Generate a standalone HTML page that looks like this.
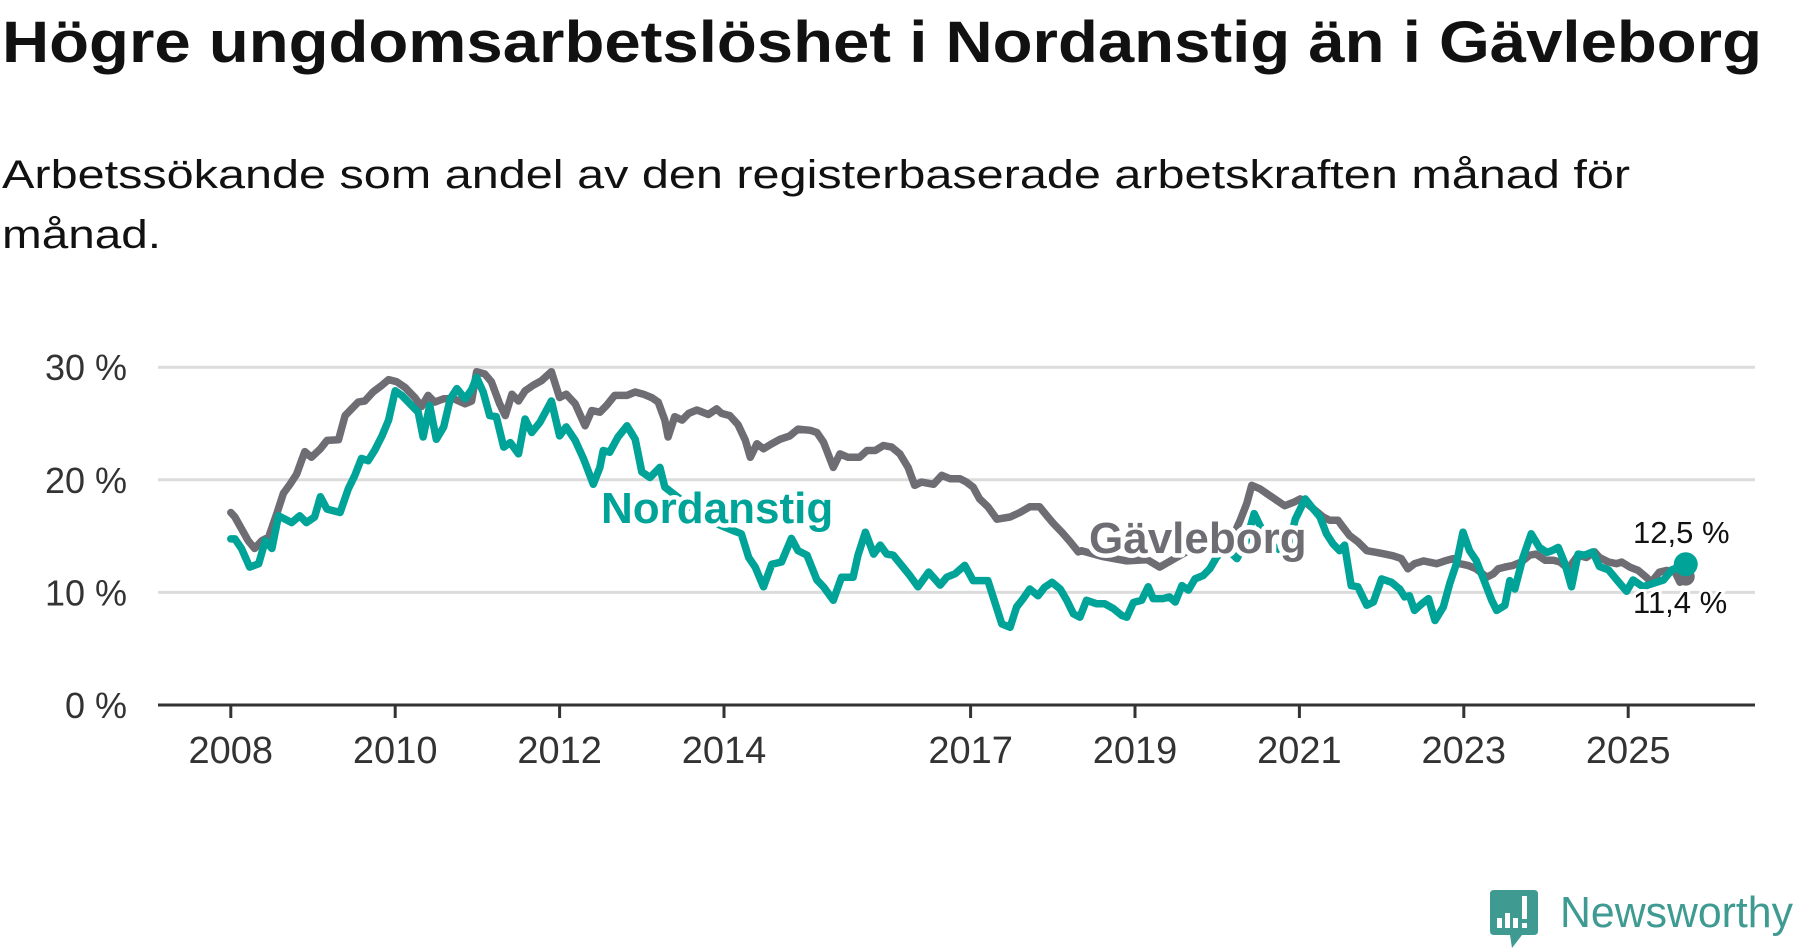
<!DOCTYPE html>
<html><head><meta charset="utf-8"><style>
html,body{margin:0;padding:0;background:#fff;width:1800px;height:948px;overflow:hidden}
svg text{font-family:"Liberation Sans",sans-serif}
</style></head><body>
<svg id="chart" width="1800" height="948" viewBox="0 0 1800 948" xmlns="http://www.w3.org/2000/svg">
<text x="2" y="62" font-size="58" font-weight="bold" fill="#111" textLength="1760" lengthAdjust="spacingAndGlyphs">Högre ungdomsarbetslöshet i Nordanstig än i Gävleborg</text>
<text x="2" y="188" font-size="40" fill="#111" textLength="1628" lengthAdjust="spacingAndGlyphs">Arbetssökande som andel av den registerbaserade arbetskraften månad för</text>
<text x="2" y="248" font-size="40" fill="#111" textLength="159" lengthAdjust="spacingAndGlyphs">månad.</text>
<g id="grid"></g><g id="axis"></g><g id="lines"></g><g id="labels"></g>
<g>
<path d="M1494 890 H1534 Q1538 890 1538 894 V931 Q1538 935 1534 935 H1522 L1512 948 L1510 935 H1494 Q1490 935 1490 931 V894 Q1490 890 1494 890 Z" fill="#3f9a92"/>
<rect x="1497" y="918" width="5" height="10" fill="#fff"/><rect x="1505" y="913" width="5" height="15" fill="#fff"/><rect x="1513" y="918" width="5" height="10" fill="#fff"/><rect x="1522" y="896" width="5" height="23" fill="#fff"/><rect x="1522" y="923" width="5" height="5" fill="#fff"/>
<text x="1560" y="927" font-size="44" fill="#3f9a92" textLength="233" lengthAdjust="spacingAndGlyphs">Newsworthy</text>
</g>
</svg>
<script>
const yTicks=[0,10,20,30];
const yTickLabels=["0 %","10 %","20 %","30 %"];
const xTicks=[2008,2010,2012,2014,2017,2019,2021,2023,2025];
const gavDates=[2008.0,2008.05,2008.13,2008.21,2008.29,2008.38,2008.46,2008.56,2008.64,2008.72,2008.8,2008.9,2008.98,2009.09,2009.17,2009.31,2009.39,2009.47,2009.55,2009.63,2009.73,2009.84,2009.92,2010.02,2010.12,2010.24,2010.32,2010.4,2010.48,2010.59,2010.71,2010.85,2010.93,2010.99,2011.09,2011.17,2011.27,2011.34,2011.42,2011.5,2011.58,2011.68,2011.78,2011.9,2012.0,2012.08,2012.19,2012.31,2012.39,2012.49,2012.57,2012.67,2012.82,2012.92,2013.02,2013.12,2013.2,2013.28,2013.32,2013.4,2013.49,2013.57,2013.67,2013.81,2013.91,2013.97,2014.07,2014.17,2014.26,2014.32,2014.4,2014.48,2014.58,2014.68,2014.8,2014.9,2015.05,2015.13,2015.21,2015.33,2015.41,2015.51,2015.65,2015.74,2015.84,2015.94,2016.04,2016.14,2016.24,2016.32,2016.4,2016.55,2016.65,2016.75,2016.87,2016.95,2017.03,2017.11,2017.21,2017.32,2017.48,2017.6,2017.72,2017.84,2017.94,2018.01,2018.11,2018.21,2018.31,2018.35,2018.6,2018.9,2019.15,2019.3,2019.6,2019.9,2020.1,2020.2,2020.28,2020.36,2020.42,2020.52,2020.64,2020.72,2020.82,2020.93,2021.01,2021.09,2021.29,2021.37,2021.47,2021.53,2021.61,2021.71,2021.82,2021.94,2022.04,2022.14,2022.24,2022.32,2022.4,2022.51,2022.67,2022.77,2022.87,2022.95,2023.05,2023.15,2023.28,2023.36,2023.42,2023.5,2023.6,2023.7,2023.8,2023.88,2023.99,2024.09,2024.17,2024.27,2024.39,2024.49,2024.59,2024.65,2024.76,2024.86,2024.92,2025.02,2025.12,2025.22,2025.28,2025.38,2025.47,2025.57,2025.63,2025.7];
const gavValues=[17.1,16.7,15.65,14.6,13.9,14.6,14.9,17.0,18.8,19.6,20.5,22.5,22.0,22.75,23.5,23.55,25.7,26.3,26.9,27.0,27.8,28.4,28.9,28.7,28.2,27.3,26.5,27.5,26.9,27.2,27.2,26.75,27.0,29.6,29.4,28.7,26.75,25.7,27.6,27.0,27.9,28.4,28.8,29.6,27.3,27.6,26.75,24.8,26.15,26.0,26.6,27.5,27.5,27.8,27.6,27.3,26.9,25.3,23.8,25.6,25.3,25.9,26.2,25.8,26.3,25.9,25.7,24.9,23.5,22.0,23.2,22.75,23.2,23.6,23.9,24.5,24.4,24.2,23.35,21.1,22.3,22.0,22.0,22.6,22.6,23.05,22.9,22.3,21.1,19.5,19.8,19.6,20.4,20.1,20.1,19.8,19.35,18.3,17.6,16.5,16.7,17.1,17.6,17.6,16.7,16.1,15.35,14.5,13.6,13.7,13.2,12.8,12.9,12.25,13.5,14.5,15.3,15.1,16.4,17.9,19.5,19.2,18.6,18.2,17.7,18.0,18.3,17.9,16.7,16.4,16.4,15.8,15.05,14.5,13.7,13.55,13.4,13.25,13.0,12.1,12.55,12.8,12.55,12.8,13.0,12.55,12.4,12.1,11.35,11.65,12.1,12.25,12.4,12.7,13.3,13.4,12.85,12.85,12.7,12.1,13.3,13.1,13.6,13.1,12.7,12.55,12.7,12.25,11.95,11.35,10.9,11.8,11.95,11.8,10.9,11.4];
const norDates=[2008.0,2008.05,2008.13,2008.23,2008.34,2008.42,2008.5,2008.58,2008.66,2008.74,2008.84,2008.92,2009.02,2009.09,2009.17,2009.33,2009.43,2009.51,2009.59,2009.67,2009.75,2009.84,2009.92,2010.0,2010.08,2010.2,2010.28,2010.34,2010.42,2010.5,2010.59,2010.67,2010.75,2010.85,2010.93,2010.99,2011.07,2011.15,2011.23,2011.32,2011.4,2011.5,2011.58,2011.66,2011.76,2011.9,2012.0,2012.08,2012.19,2012.29,2012.41,2012.49,2012.53,2012.61,2012.71,2012.82,2012.92,2013.0,2013.1,2013.22,2013.28,2013.59,2013.91,2014.11,2014.21,2014.3,2014.38,2014.48,2014.58,2014.7,2014.82,2014.9,2015.01,2015.13,2015.21,2015.33,2015.43,2015.57,2015.63,2015.72,2015.82,2015.9,2015.98,2016.06,2016.16,2016.26,2016.36,2016.49,2016.63,2016.71,2016.81,2016.93,2017.03,2017.21,2017.3,2017.38,2017.48,2017.56,2017.64,2017.72,2017.82,2017.9,2017.99,2018.09,2018.17,2018.25,2018.33,2018.41,2018.53,2018.63,2018.74,2018.84,2018.9,2018.98,2019.08,2019.16,2019.22,2019.34,2019.42,2019.49,2019.57,2019.65,2019.73,2019.83,2019.91,2019.99,2020.1,2020.24,2020.35,2020.45,2020.55,2020.7,2020.85,2020.95,2021.07,2021.17,2021.25,2021.33,2021.41,2021.49,2021.55,2021.63,2021.71,2021.82,2021.9,2022.0,2022.12,2022.22,2022.28,2022.34,2022.4,2022.49,2022.57,2022.65,2022.75,2022.83,2022.91,2022.99,2023.07,2023.15,2023.26,2023.34,2023.4,2023.5,2023.56,2023.62,2023.72,2023.82,2023.92,2024.01,2024.07,2024.15,2024.23,2024.31,2024.39,2024.47,2024.57,2024.65,2024.76,2024.88,2024.98,2025.06,2025.18,2025.3,2025.43,2025.53,2025.7];
const norValues=[14.75,14.75,13.9,12.25,12.55,14.6,13.9,16.8,16.5,16.2,16.8,16.2,16.7,18.5,17.4,17.1,19.2,20.4,21.9,21.7,22.6,23.9,25.3,27.9,27.5,26.6,26.0,23.8,26.6,23.6,24.7,27.2,28.1,27.2,28.0,29.1,27.8,25.7,25.6,22.9,23.3,22.3,25.4,24.2,25.1,27.0,23.9,24.7,23.5,21.9,19.6,21.1,22.6,22.45,23.8,24.8,23.6,20.7,20.2,21.1,19.35,17.6,16.1,15.5,15.2,13.1,12.25,10.5,12.5,12.7,14.8,13.7,13.3,11.1,10.5,9.3,11.35,11.35,13.3,15.35,13.4,14.2,13.4,13.3,12.4,11.5,10.5,11.8,10.65,11.35,11.65,12.4,11.05,11.05,9.0,7.2,6.9,8.7,9.45,10.3,9.7,10.45,10.9,10.3,9.3,8.1,7.8,9.3,9.0,9.0,8.55,7.95,7.8,9.1,9.3,10.5,9.45,9.45,9.6,9.15,10.6,10.2,11.2,11.5,12.1,13.1,14.0,13.0,14.5,17.0,15.5,14.0,13.5,16.5,18.3,17.4,16.7,15.2,14.3,13.7,14.2,10.6,10.5,8.85,9.15,11.2,10.9,10.3,9.6,9.7,8.4,9.0,9.45,7.5,8.7,10.8,12.55,15.35,13.7,12.85,10.8,9.3,8.4,8.85,11.05,10.3,13.1,15.2,14.0,13.55,13.7,14.0,12.55,10.5,13.4,13.3,13.6,12.3,12.0,10.95,10.1,11.1,10.5,10.8,11.1,12.0,12.5];
const seriesNames=["Nordanstig","Gävleborg"];
const lastLabels=["12,5 %","11,4 %"];

const NS="http://www.w3.org/2000/svg";
function X(yr){return 230.8+(yr-2008)*82.2;}
function Y(v){return 705-v*11.26;}
function mk(tag,attrs,parent){const e=document.createElementNS(NS,tag);for(const k in attrs)e.setAttribute(k,attrs[k]);parent.appendChild(e);return e;}
const grid=document.getElementById('grid'),axis=document.getElementById('axis'),lines=document.getElementById('lines'),labels=document.getElementById('labels');
yTicks.forEach((t,i)=>{
  if(t>0){const g=mk('line',{x1:158,x2:1755,y1:Y(t),y2:Y(t),stroke:'#dcdcdc','stroke-width':3},grid);
  
  }
  const tx=mk('text',{x:127,y:Y(t)+13,'font-size':36,fill:'#333','text-anchor':'end'},axis);
  tx.textContent=yTickLabels[i];
  
  
});
const base=mk('line',{x1:158,x2:1755,y1:705,y2:705,stroke:'#333','stroke-width':3},axis);


xTicks.forEach(t=>{
  const tk=mk('line',{x1:X(t),x2:X(t),y1:705,y2:718,stroke:'#333','stroke-width':3},axis);
  
  
  const tx=mk('text',{x:X(t),y:763,'font-size':38,fill:'#333','text-anchor':'middle'},axis);
  tx.textContent=t;
  
  
});
function path(d,v){return d.map((yr,i)=>(i?'L':'M')+X(yr).toFixed(1)+' '+Y(v[i]).toFixed(1)).join(' ');}
const gp=mk('path',{d:path(gavDates,gavValues),fill:'none',stroke:'#6e6d73','stroke-width':7.5,'stroke-linejoin':'round','stroke-linecap':'round'},lines);


const gd=mk('circle',{cx:X(gavDates[gavDates.length-1]),cy:Y(gavValues[gavValues.length-1]),r:9,fill:'#6e6d73'},lines);


const np=mk('path',{d:path(norDates,norValues),fill:'none',stroke:'#00a398','stroke-width':7.5,'stroke-linejoin':'round','stroke-linecap':'round'},lines);


const nd=mk('circle',{cx:X(norDates[norDates.length-1]),cy:Y(norValues[norValues.length-1]),r:12,fill:'#00a398'},lines);


const l1=mk('text',{x:601,y:523,'font-size':44,'font-weight':'bold',fill:'#00a398',stroke:'#fff','stroke-width':9,'paint-order':'stroke','stroke-linejoin':'round'},labels);
l1.textContent=seriesNames[0];


const l2=mk('text',{x:1089,y:553,'font-size':44,'font-weight':'bold',fill:'#6e6d73',stroke:'#fff','stroke-width':9,'paint-order':'stroke','stroke-linejoin':'round'},labels);
l2.textContent=seriesNames[1];


const v1=mk('text',{x:1633,y:543,'font-size':31,fill:'#111',stroke:'#fff','stroke-width':6,'paint-order':'stroke'},labels);
v1.textContent=lastLabels[0];


const v2=mk('text',{x:1633,y:613,'font-size':31,fill:'#111',stroke:'#fff','stroke-width':6,'paint-order':'stroke'},labels);
v2.textContent=lastLabels[1];


</script>
</body></html>
